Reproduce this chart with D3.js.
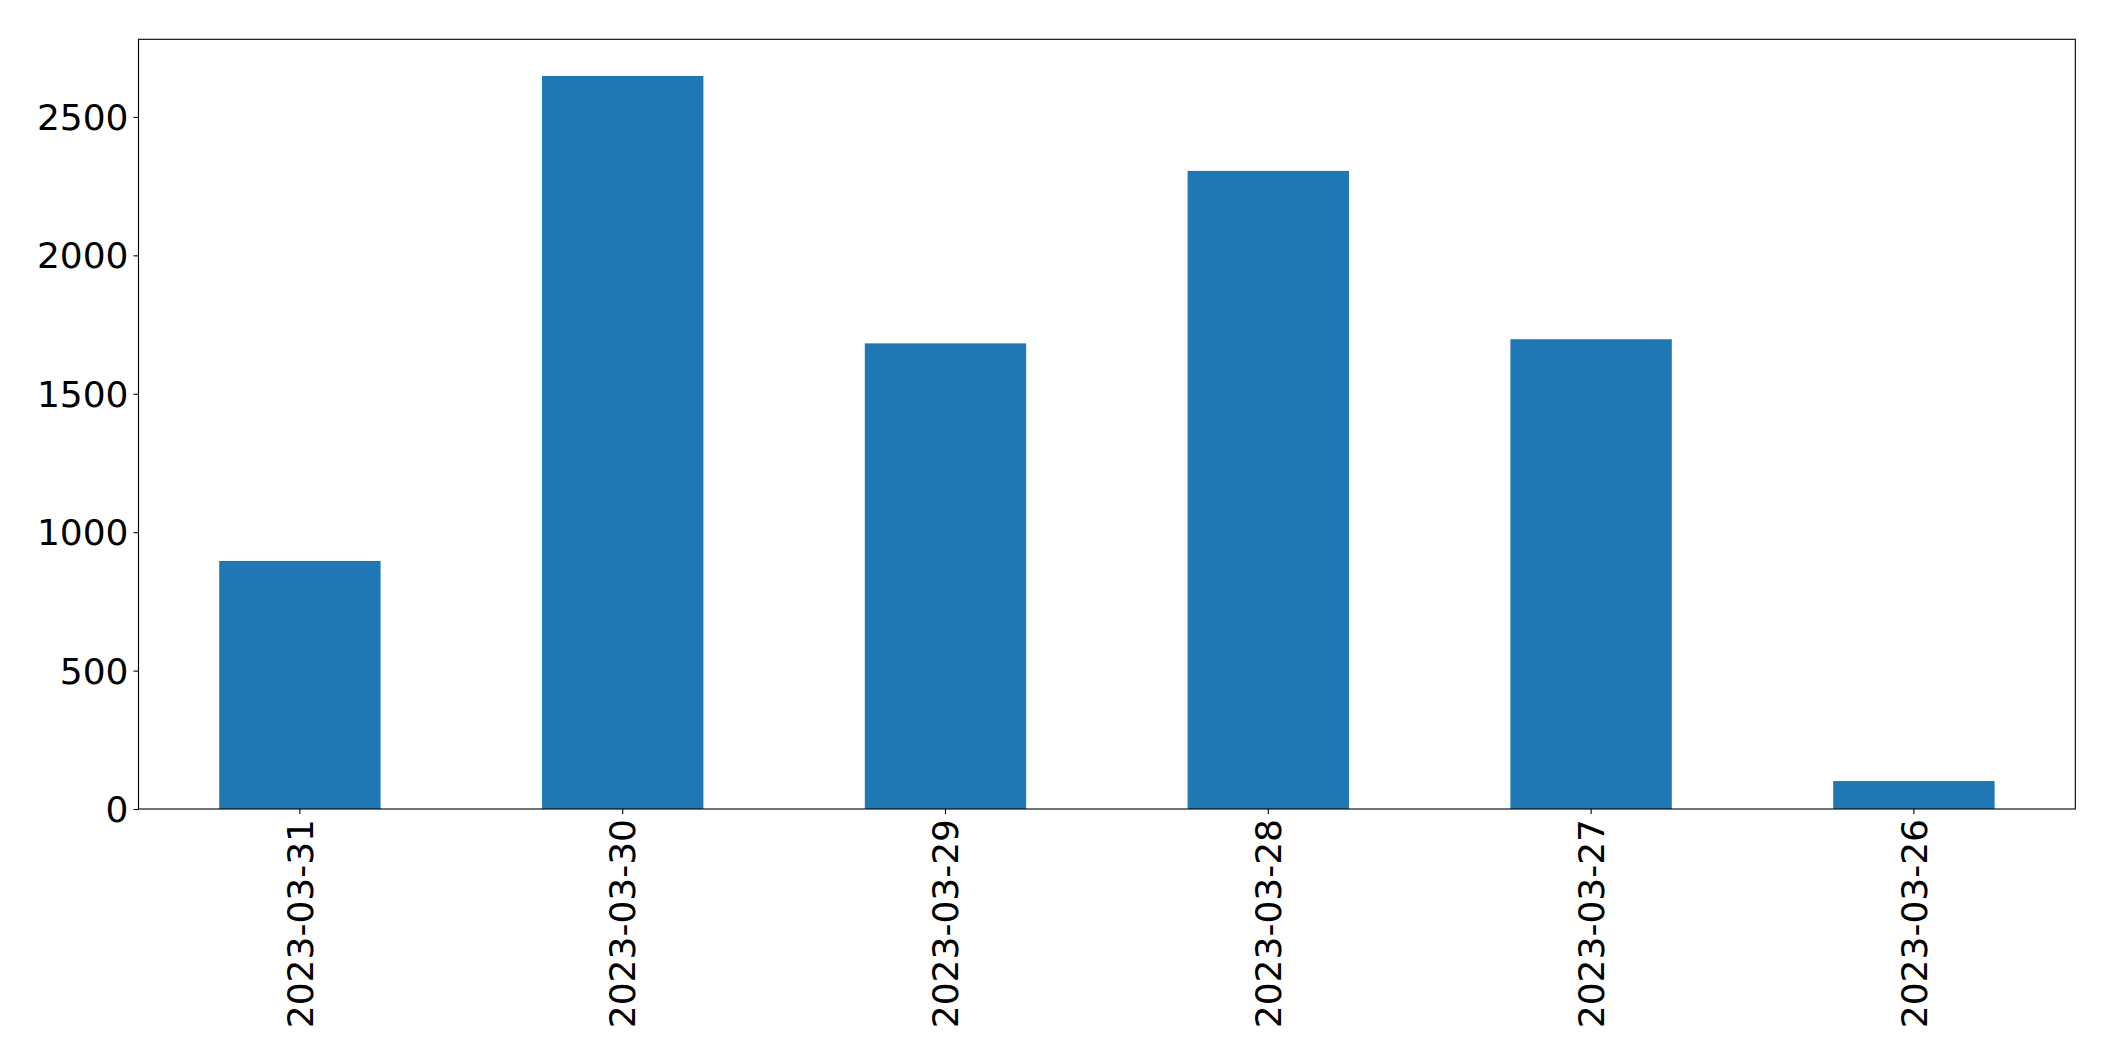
<!DOCTYPE html>
<html>
<head>
<meta charset="utf-8">
<script src="https://cdn.jsdelivr.net/npm/d3@7"></script>
<style>
  html, body { margin: 0; padding: 0; background: #fff; }
  svg { display: block; }
  .tick text { font-family: "DejaVu Sans", sans-serif; font-size: 36px; fill: #000; }
  .tick line { stroke: #000; stroke-width: 1.1; }
</style>
</head>
<body>
<svg id="chart" width="2115" height="1061"></svg>
<script>
const categories = ["2023-03-31", "2023-03-30", "2023-03-29", "2023-03-28", "2023-03-27", "2023-03-26"];
const values = [896, 2648, 1682, 2305, 1697, 101];
const yTicks = [0, 500, 1000, 1500, 2000, 2500];

const W = 2115, H = 1061;
const margin = { left: 138.5, right: W - 2075.3, top: 39.3, bottom: H - 809 };
const svg = d3.select("#chart");

const x = d3.scaleBand()
  .domain(categories)
  .range([margin.left, W - margin.right])
  .paddingInner(0.5)
  .paddingOuter(0.25);

const yMax = d3.max(values) * 1.05;
const y = d3.scaleLinear()
  .domain([0, yMax])
  .range([H - margin.bottom, margin.top]);

svg.append("g")
  .selectAll("rect")
  .data(values)
  .join("rect")
  .attr("x", (d, i) => x(categories[i]))
  .attr("width", x.bandwidth())
  .attr("y", d => y(d))
  .attr("height", d => y(0) - y(d))
  .attr("fill", "#1f77b4");

// Y axis
const gy = svg.append("g")
  .attr("transform", `translate(${margin.left},0)`)
  .call(d3.axisLeft(y).tickValues(yTicks).tickSize(5).tickPadding(5).tickFormat(d3.format("d")));
gy.select(".domain").remove();
gy.selectAll(".tick text").attr("dy", "0.35em");

// X axis
const gx = svg.append("g")
  .attr("transform", `translate(0,${H - margin.bottom})`)
  .call(d3.axisBottom(x).tickSize(5).tickPadding(5));
gx.select(".domain").remove();
gx.selectAll(".tick text")
  .attr("text-anchor", "end")
  .attr("transform", "rotate(-90)")
  .attr("x", -10)
  .attr("y", 0)
  .attr("dy", "0.35em");

// Frame
svg.append("rect")
  .attr("x", margin.left)
  .attr("y", margin.top)
  .attr("width", W - margin.right - margin.left)
  .attr("height", H - margin.bottom - margin.top)
  .attr("fill", "none")
  .attr("stroke", "#000")
  .attr("stroke-width", 1.1);
</script>
</body>
</html>
